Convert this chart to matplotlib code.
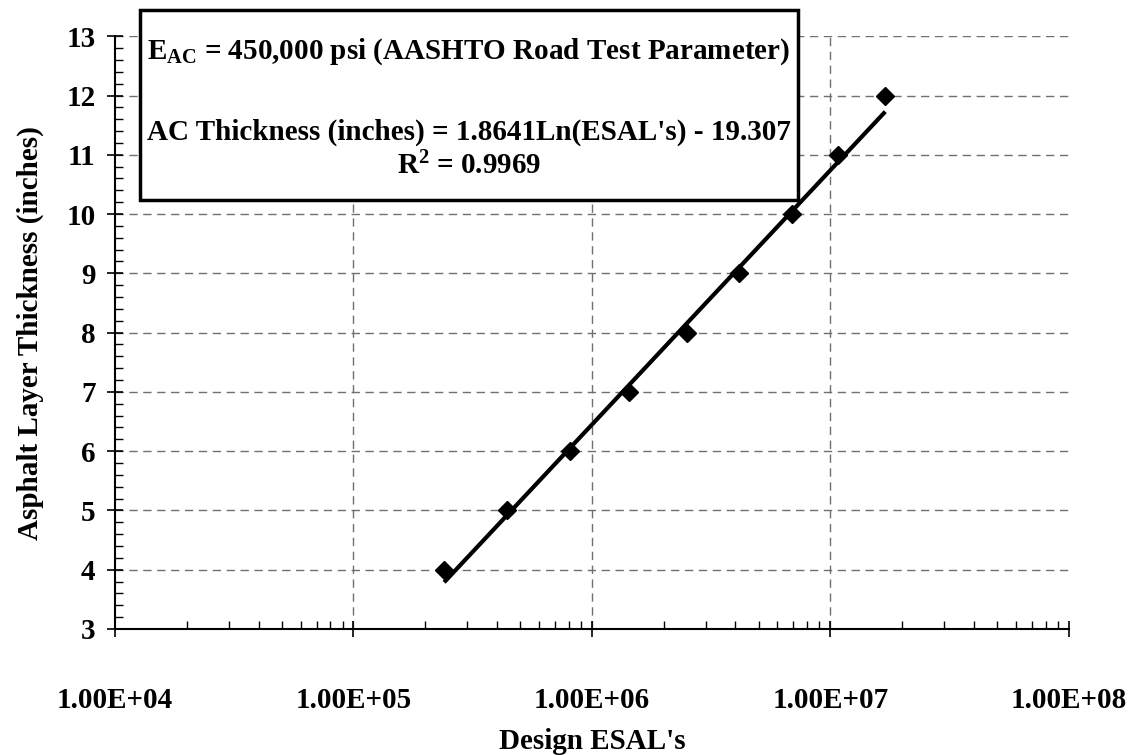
# ESAL vs asphalt layer thickness, log-x scatter with ln trendline
import numpy as np
import matplotlib
matplotlib.use("Agg")
import matplotlib.pyplot as plt
from matplotlib.ticker import LogLocator, MultipleLocator, FixedLocator, NullFormatter

# data
esals = [2.40e5, 4.41e5, 8.11e5, 1.43e6, 2.51e6, 4.14e6, 6.91e6, 1.08e7, 1.70e7]
thickness = [4, 5, 6, 7, 8, 9, 10, 11, 12]

# trendline coefficients (as printed on the chart)
coef_a = 1.8641
coef_b = -19.307

x_ticks = [1e4, 1e5, 1e6, 1e7, 1e8]
x_tick_labels = ["1.00E+04", "1.00E+05", "1.00E+06", "1.00E+07", "1.00E+08"]
y_ticks = [3, 4, 5, 6, 7, 8, 9, 10, 11, 12, 13]

plt.rcParams['font.family'] = ['Liberation Serif', 'DejaVu Serif']
plt.rcParams['font.weight'] = 'bold'
plt.rcParams['mathtext.fontset'] = 'custom'
plt.rcParams['mathtext.rm'] = 'Liberation Serif:bold'
plt.rcParams['mathtext.bf'] = 'Liberation Serif:bold'
plt.rcParams['mathtext.it'] = 'Liberation Serif:bold'

FS = 21

fig = plt.figure(figsize=(11.3, 7.55), dpi=100)
ax = fig.add_axes([0.1018, 0.167, 0.844, 0.785])

ax.set_xscale("log")
ax.set_xlim(1e4, 1e8)
ax.set_ylim(3, 13)

# trendline over the data range
x_fit = np.logspace(np.log10(min(esals)), np.log10(max(esals)), 100)
y_fit = coef_a * np.log(x_fit) + coef_b
ax.plot(x_fit, y_fit, color="black", linewidth=3.0, solid_capstyle="butt", zorder=3)

# data points
ax.plot(esals, thickness, linestyle="none", marker="D", markersize=9,
        color="black", zorder=4)

# axes styling
for side in ["top", "right"]:
    ax.spines[side].set_visible(False)
for side in ["left", "bottom"]:
    ax.spines[side].set_linewidth(1.5)

ax.xaxis.set_major_locator(FixedLocator(x_ticks))
ax.set_xticklabels(x_tick_labels)
ax.xaxis.set_minor_locator(LogLocator(base=10, subs=np.arange(2, 10)))
ax.xaxis.set_minor_formatter(NullFormatter())
ax.set_yticks(y_ticks)
ax.yaxis.set_minor_locator(MultipleLocator(0.2))

# gridlines (none on the axis ends at 1e4 / 1e8)
ax.grid(True, which="major", axis="both", color="#707070", linestyle=(0, (6, 4)), linewidth=1.0)
ax.set_axisbelow(True)
xgl = ax.get_xgridlines()
xgl[0].set_visible(False)
xgl[-1].set_visible(False)
ax.get_ygridlines()[0].set_visible(False)

ax.tick_params(axis="x", which="major", direction="inout", length=12, width=1.2,
               labelsize=FS, pad=36)
ax.tick_params(axis="x", which="minor", direction="in", length=6, width=1.0)
ax.tick_params(axis="y", which="major", direction="inout", length=12, width=1.2,
               labelsize=FS, pad=8)
ax.tick_params(axis="y", which="minor", direction="in", length=6, width=1.0)

ax.set_xlabel("Design ESAL's", fontsize=FS, fontweight="bold", va="center")
ax.xaxis.set_label_coords(0.5, -0.19)
ax.set_ylabel("Asphalt Layer Thickness (inches)", fontsize=FS, fontweight="bold", labelpad=16)

# equation box
box = plt.Rectangle((140 / 1130, 1 - 200 / 755), 658 / 1130, 190 / 755,
                    transform=fig.transFigure, facecolor="white", edgecolor="black",
                    linewidth=2.5, zorder=10)
fig.patches.append(box)
cx = (140 + 798) / 2 / 1130
fig.text(cx, 1 - 52 / 755, r"E$_{\mathbf{AC}}$ = 450,000 psi (AASHTO Road Test Parameter)",
         ha="center", va="center", fontsize=FS, fontweight="bold", zorder=11)
fig.text(cx, 1 - 132 / 755, "AC Thickness (inches) = 1.8641Ln(ESAL's) - 19.307",
         ha="center", va="center", fontsize=FS, fontweight="bold", zorder=11)
fig.text(cx, 1 - 166 / 755, r"R$^{\mathbf{2}}$ = 0.9969",
         ha="center", va="center", fontsize=FS, fontweight="bold", zorder=11)

fig.savefig("out.png", dpi=100)
